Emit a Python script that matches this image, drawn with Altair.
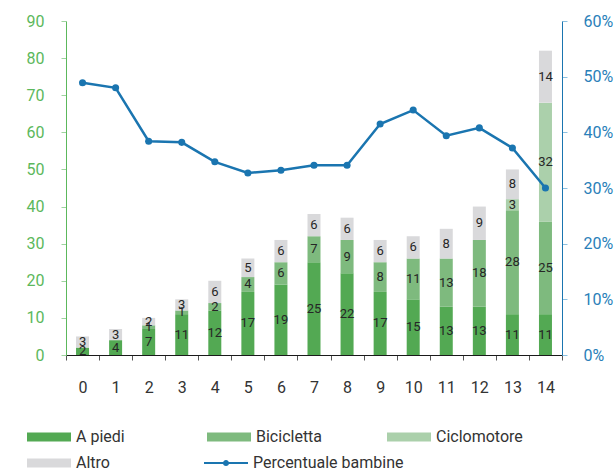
import altair as alt
import pandas as pd

# Età dei bambini (anni)
eta = list(range(15))

# Numero di bambini per modalità di spostamento
a_piedi = [2, 4, 7, 11, 12, 17, 19, 25, 22, 17, 15, 13, 13, 11, 11]
bicicletta = [0, 0, 1, 1, 2, 4, 6, 7, 9, 8, 11, 13, 18, 28, 25]
ciclomotore = [0, 0, 0, 0, 0, 0, 0, 0, 0, 0, 0, 0, 0, 3, 32]
altro = [3, 3, 2, 3, 6, 5, 6, 6, 6, 6, 6, 8, 9, 8, 14]

# Quota di bambine (%)
perc_bambine = [48.9, 48.0, 38.4, 38.2, 34.7, 32.7, 33.2, 34.1, 34.1,
                41.5, 44.0, 39.4, 40.8, 37.2, 30.0]

serie = ["A piedi", "Bicicletta", "Ciclomotore", "Altro"]
colori = ["#53a953", "#7eba7e", "#abd0ab", "#d9d9db"]
blu = "#1a75b0"
verde_asse = "#5cb85c"
nome_linea = "Percentuale bambine"

FONT = "Roboto"

righe = []
for ordine, (nome, valori) in enumerate(zip(serie, [a_piedi, bicicletta, ciclomotore, altro])):
    for e, v in zip(eta, valori):
        righe.append({"eta": e, "serie": nome, "ordine": ordine, "valore": v})
df_barre = pd.DataFrame(righe)
df_linea = pd.DataFrame({"eta": eta, "perc": perc_bambine, "nome": nome_linea})

x_enc = alt.X(
    "eta:O",
    scale=alt.Scale(paddingInner=0, paddingOuter=0),
    axis=alt.Axis(
        title=None, labelAngle=0, tickBand="extent", tickSize=5,
        domainColor="#1a1a1a", tickColor="#555555", labelColor="#333333",
        labelFont=FONT, labelFontSize=16, labelPadding=19,
    ),
)

y_sin_scale = alt.Scale(domain=[0, 90], nice=False)
y_sin_axis = alt.Axis(
    title=None, values=list(range(0, 91, 10)), tickSize=5,
    domainColor=verde_asse, tickColor="#9fd39f", labelColor=verde_asse,
    labelFont=FONT, labelFontSize=16, labelPadding=17, orient="left",
)

y_des_scale = alt.Scale(domain=[0, 60], nice=False)
y_des_axis = alt.Axis(
    title=None, values=list(range(0, 61, 10)), tickSize=5,
    domainColor=blu, tickColor="#8cc0e0", labelColor="#2a80b9",
    labelFont=FONT, labelFontSize=16, labelPadding=16, orient="right",
    labelExpr="datum.value + '%'",
)

base_barre = alt.Chart(df_barre).transform_stack(
    stack="valore", groupby=["eta"], sort=[alt.SortField("ordine")], as_=["y0", "y1"]
)

barre = base_barre.mark_bar(size=13).encode(
    x=x_enc,
    y=alt.Y("y0:Q", scale=y_sin_scale, axis=y_sin_axis),
    y2="y1:Q",
    color=alt.Color(
        "serie:N",
        scale=alt.Scale(domain=serie, range=colori),
        legend=alt.Legend(
            title=None, orient="none", legendX=-39, legendY=408,
            direction="horizontal", columns=3, gridAlign="all",
            columnPadding=44, rowPadding=10,
            symbolType="M-1,-0.2H1V0.2H-1Z", symbolSize=1936, symbolStrokeWidth=0,
            labelFont=FONT, labelFontSize=16, labelColor="#333333",
            labelOffset=5, clipHeight=16, padding=0,
        ),
    ),
)

etichette = base_barre.transform_filter("datum.valore > 0").transform_calculate(
    mid="(datum.y0 + datum.y1) / 2"
).mark_text(font=FONT, fontSize=13, color="#262626").encode(
    x=x_enc,
    y=alt.Y("mid:Q", scale=y_sin_scale, axis=y_sin_axis),
    text="valore:Q",
)

linea = alt.Chart(df_linea).mark_line(color=blu, strokeWidth=2.5).encode(
    x=x_enc,
    y=alt.Y("perc:Q", scale=y_des_scale, axis=y_des_axis),
)

punti = alt.Chart(df_linea).mark_circle(size=50, opacity=1).encode(
    x=x_enc,
    y=alt.Y("perc:Q", scale=y_des_scale, axis=y_des_axis),
    fill=alt.Fill(
        "nome:N",
        scale=alt.Scale(domain=[nome_linea], range=[blu]),
        legend=alt.Legend(
            title=None, orient="none", legendX=138, legendY=434,
            symbolType="M-1,-0.05H1V0.05H-1Z M-0.14,0A0.14,0.14 0 1,1 0.14,0A0.14,0.14 0 1,1 -0.14,0Z",
            symbolSize=1936, symbolStrokeWidth=0,
            labelFont=FONT, labelFontSize=16, labelColor="#333333",
            labelOffset=5, clipHeight=16, padding=0,
        ),
    ),
)

chart = alt.layer(
    alt.layer(barre, etichette),
    alt.layer(linea, punti),
).resolve_scale(
    y="independent"
).properties(
    width=496, height=334,
    autosize=alt.AutoSizeParams(type="none"),
    padding={"left": 66, "top": 21, "right": 54, "bottom": 120},
    background="white",
).configure_view(stroke=None).configure_axis(grid=False)

chart.save("out.html", embed_options={"renderer": "svg", "actions": False})
